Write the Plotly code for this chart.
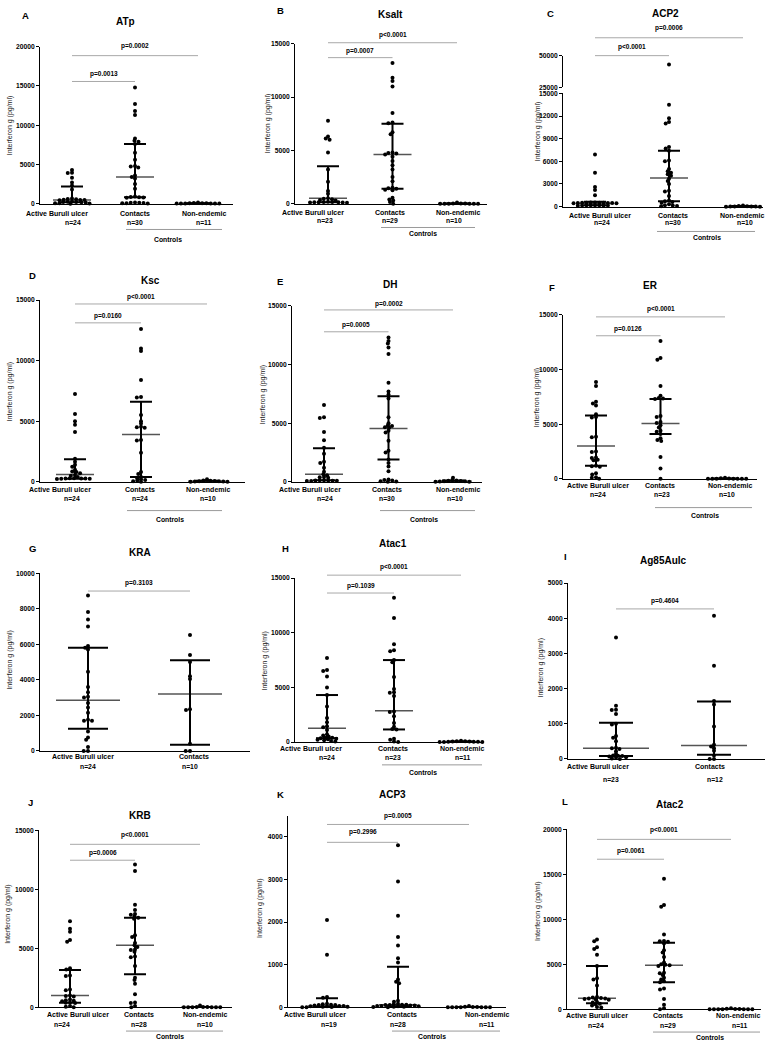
import numpy as np
import plotly.graph_objects as go

W, H = 766, 1044
FONT = "Arial, 'Liberation Sans', sans-serif"

GROUPS_3 = ["Active Buruli ulcer", "Contacts", "Non-endemic"]
GROUPS_2 = ["Active Buruli ulcer", "Contacts"]
Y_LABEL = "Interferon g (pg/ml)"
CONTROLS_LABEL = "Controls"

# ---------------- data (pg/ml) ----------------
# A  ATp
atp_active = [4300, 3950, 3900, 3300, 2700, 2300, 1800, 650, 600, 560, 500, 470, 450, 430, 280, 250, 220, 200, 180, 160, 60, 40, 20, 0]
atp_contacts = [14800, 12700, 11800, 11300, 8300, 8000, 7900, 7600, 6500, 5600, 4800, 4750, 4600, 3600, 3400, 3200, 2500, 1900, 900, 850, 800, 780, 750, 150, 120, 100, 80, 60, 40, 20]
atp_nonendemic = [150, 80, 60, 50, 40, 30, 30, 20, 20, 10, 10]
atp_median = [450, 3400, 30]
atp_q1 = [190, 800, 10]
atp_q3 = [2200, 7600, 60]
atp_n = [24, 30, 11]
atp_pvalues = ["p=0.0013", "p=0.0002"]

# B  Ksalt
ksalt_active = [7780, 6290, 6100, 6000, 4800, 3200, 2050, 1180, 930, 500, 460, 420, 350, 300, 180, 160, 150, 140, 130, 120, 110, 100, 90]
ksalt_contacts = [13200, 11800, 11500, 11000, 8500, 7600, 7550, 6700, 6500, 4800, 4750, 4700, 4600, 4400, 4000, 3600, 3200, 2500, 2100, 1500, 1450, 1400, 1300, 1250, 550, 400, 300, 150, 0]
ksalt_nonendemic = [100, 10, 5, 5, 0, 0, 0, 0, 0, 0]
ksalt_median = [500, 4600, 10]
ksalt_q1 = [130, 1400, 0]
ksalt_q3 = [3500, 7500, 10]
ksalt_n = [23, 29, 10]
ksalt_pvalues = ["p=0.0007", "p<0.0001"]

# C  ACP2
acp2_active = [6900, 4500, 2600, 2200, 1500, 550, 540, 530, 520, 510, 500, 490, 480, 470, 460, 450, 200, 190, 180, 170, 160, 150, 140, 130]
acp2_contacts = [43000, 13500, 11700, 11200, 11000, 7900, 7700, 7400, 6100, 6000, 5000, 4700, 4500, 4300, 4100, 3700, 3400, 3000, 2100, 2000, 1400, 800, 700, 600, 500, 300, 200, 150, 100, 50]
acp2_nonendemic = [150, 100, 50, 30, 20, 10, 10, 0, 0, 0]
acp2_median = [400, 3800, 20]
acp2_q1 = [170, 700, 0]
acp2_q3 = [650, 7400, 80]
acp2_n = [24, 30, 10]
acp2_pvalues = ["p<0.0001", "p=0.0006"]

# D  Ksc
ksc_active = [7250, 5600, 5000, 4700, 4100, 1900, 1650, 1400, 1250, 1000, 850, 800, 700, 550, 500, 400, 300, 290, 280, 270, 260, 250, 240, 230]
ksc_contacts = [12600, 11000, 10800, 8400, 7000, 6950, 5500, 5000, 4800, 4550, 4500, 4450, 3450, 3400, 2400, 800, 650, 400, 300, 200, 150, 100, 50, 0]
ksc_nonendemic = [200, 100, 80, 60, 50, 40, 30, 20, 10, 0]
ksc_median = [600, 3900, 40]
ksc_q1 = [250, 400, 15]
ksc_q3 = [1850, 6600, 80]
ksc_n = [24, 24, 10]
ksc_pvalues = ["p=0.0160", "p<0.0001"]

# E  DH
dh_active = [6550, 5500, 5450, 4250, 3550, 2900, 2400, 1700, 1600, 1200, 850, 650, 550, 400, 380, 350, 130, 120, 110, 100, 90, 80, 70, 60]
dh_contacts = [12300, 12000, 11800, 11450, 10900, 8450, 7700, 7450, 7100, 5500, 5000, 4800, 4750, 4650, 4600, 4350, 4200, 3500, 2650, 2500, 1900, 1600, 1300, 900, 200, 150, 100, 50, 30, 0]
dh_nonendemic = [350, 150, 100, 80, 60, 50, 40, 20, 10, 0]
dh_median = [650, 4550, 55]
dh_q1 = [120, 1900, 15]
dh_q3 = [2850, 7300, 100]
dh_n = [24, 30, 10]
dh_pvalues = ["p=0.0005", "p=0.0002"]

# F  ER
er_active = [8850, 8500, 7050, 6900, 6700, 5900, 5650, 5600, 3850, 3800, 2500, 2450, 1950, 1900, 1750, 1700, 1200, 1150, 1100, 500, 400, 150, 100, 0]
er_contacts = [12600, 11050, 10900, 8500, 7600, 7400, 7350, 7300, 5750, 5650, 5200, 5100, 4900, 4700, 4400, 4300, 4100, 3700, 3550, 3450, 2000, 950, 0]
er_nonendemic = [100, 50, 20, 10, 10, 0, 0, 0, 0, 0]
er_median = [3000, 5050, 10]
er_q1 = [1200, 4100, 0]
er_q3 = [5800, 7300, 30]
er_n = [24, 23, 10]
er_pvalues = ["p=0.0126", "p<0.0001"]

# G  KRA
kra_active = [8750, 7820, 7400, 7000, 5900, 5800, 5700, 4450, 3600, 3300, 3050, 3000, 2700, 2450, 2150, 1750, 1700, 1700, 1100, 750, 630, 220, 0, 0]
kra_contacts = [6520, 5400, 5000, 4200, 4050, 2350, 2300, 400, 0, 0]
kra_median = [2850, 3200]
kra_q1 = [1250, 350]
kra_q3 = [5800, 5100]
kra_n = [24, 10]
kra_pvalues = ["p=0.3103"]

# H  Atac1
atac1_active = [7700, 6600, 6500, 6000, 5000, 4300, 3250, 2200, 1800, 1450, 1350, 1100, 700, 600, 500, 400, 380, 350, 300, 250, 200, 150, 100, 50]
atac1_contacts = [13200, 11350, 8950, 8400, 8300, 7500, 7300, 5950, 4850, 4550, 4500, 4200, 2800, 2750, 2350, 1750, 1400, 1200, 1150, 300, 200, 50, 0]
atac1_nonendemic = [120, 80, 60, 50, 40, 30, 20, 20, 10, 10, 0]
atac1_median = [1250, 2850, 30]
atac1_q1 = [350, 1150, 10]
atac1_q3 = [4300, 7500, 60]
atac1_n = [24, 23, 11]
atac1_pvalues = ["p=0.1039", "p<0.0001"]

# I  Ag85Aulc
ag85_active = [3450, 1510, 1400, 1390, 1280, 1000, 980, 650, 600, 500, 320, 300, 280, 220, 150, 100, 90, 80, 70, 50, 30, 10, 0]
ag85_contacts = [4070, 2650, 1650, 1550, 920, 400, 350, 300, 230, 100, 0, 0]
ag85_median = [300, 380]
ag85_q1 = [80, 120]
ag85_q3 = [1030, 1630]
ag85_n = [23, 12]
ag85_pvalues = ["p=0.4604"]

# J  KRB
krb_active = [7300, 6650, 6400, 5700, 5550, 3300, 3200, 2700, 2650, 1500, 1450, 1000, 950, 900, 650, 600, 550, 500, 400, 380, 360, 100, 50, 0]
krb_contacts = [12100, 11550, 8700, 8250, 7900, 7850, 7700, 7600, 7500, 6100, 5950, 5450, 5250, 5100, 4900, 4850, 4700, 4300, 4250, 3500, 2500, 2300, 2000, 1100, 400, 350, 100, 0]
krb_nonendemic = [150, 20, 10, 10, 0, 0, 0, 0, 0, 0]
krb_median = [1000, 5250, 5]
krb_q1 = [370, 2800, 0]
krb_q3 = [3150, 7600, 10]
krb_n = [24, 28, 10]
krb_pvalues = ["p=0.0006", "p<0.0001"]

# K  ACP3
acp3_active = [2050, 1230, 240, 220, 80, 70, 60, 50, 50, 40, 30, 30, 20, 20, 10, 10, 5, 0, 0]
acp3_contacts = [3800, 2950, 2150, 1650, 1450, 1150, 1050, 650, 600, 560, 150, 130, 80, 70, 60, 60, 50, 50, 40, 40, 30, 30, 20, 20, 10, 10, 5, 0]
acp3_nonendemic = [30, 10, 5, 5, 0, 0, 0, 0, 0, 0, 0]
acp3_median = [30, 60, 0]
acp3_q1 = [5, 20, 0]
acp3_q3 = [210, 950, 5]
acp3_n = [19, 28, 11]
acp3_pvalues = ["p=0.2996", "p=0.0005"]

# L  Atac2
atac2_active = [7750, 7550, 6900, 6700, 6050, 4800, 3450, 3300, 2650, 1350, 1300, 1250, 1200, 1200, 1150, 1100, 1050, 800, 750, 600, 550, 400, 250, 200]
atac2_contacts = [14500, 11600, 11400, 8300, 7600, 7550, 7500, 7300, 6550, 6300, 5800, 5200, 5000, 4950, 4900, 4800, 4050, 4000, 3800, 3500, 3300, 3100, 3000, 2300, 2200, 1150, 500, 100, 0]
atac2_nonendemic = [100, 50, 30, 20, 10, 10, 0, 0, 0, 0, 0]
atac2_median = [1220, 4900, 10]
atac2_q1 = [650, 3000, 0]
atac2_q3 = [4800, 7400, 30]
atac2_n = [24, 29, 11]
atac2_pvalues = ["p=0.0061", "p<0.0001"]

PANELS = [
    dict(letter="A", title="ATp", groups=GROUPS_3, values=[atp_active, atp_contacts, atp_nonendemic], median=atp_median, q1=atp_q1, q3=atp_q3, n=atp_n, pvals=atp_pvalues, ymax=20000, dtick=5000),
    dict(letter="B", title="Ksalt", groups=GROUPS_3, values=[ksalt_active, ksalt_contacts, ksalt_nonendemic], median=ksalt_median, q1=ksalt_q1, q3=ksalt_q3, n=ksalt_n, pvals=ksalt_pvalues, ymax=15000, dtick=5000),
    dict(letter="C", title="ACP2", groups=GROUPS_3, values=[acp2_active, acp2_contacts, acp2_nonendemic], median=acp2_median, q1=acp2_q1, q3=acp2_q3, n=acp2_n, pvals=acp2_pvalues, ymax=15000, dtick=3000),
    dict(letter="D", title="Ksc", groups=GROUPS_3, values=[ksc_active, ksc_contacts, ksc_nonendemic], median=ksc_median, q1=ksc_q1, q3=ksc_q3, n=ksc_n, pvals=ksc_pvalues, ymax=15000, dtick=5000),
    dict(letter="E", title="DH", groups=GROUPS_3, values=[dh_active, dh_contacts, dh_nonendemic], median=dh_median, q1=dh_q1, q3=dh_q3, n=dh_n, pvals=dh_pvalues, ymax=15000, dtick=5000),
    dict(letter="F", title="ER", groups=GROUPS_3, values=[er_active, er_contacts, er_nonendemic], median=er_median, q1=er_q1, q3=er_q3, n=er_n, pvals=er_pvalues, ymax=15000, dtick=5000),
    dict(letter="G", title="KRA", groups=GROUPS_2, values=[kra_active, kra_contacts], median=kra_median, q1=kra_q1, q3=kra_q3, n=kra_n, pvals=kra_pvalues, ymax=10000, dtick=2000),
    dict(letter="H", title="Atac1", groups=GROUPS_3, values=[atac1_active, atac1_contacts, atac1_nonendemic], median=atac1_median, q1=atac1_q1, q3=atac1_q3, n=atac1_n, pvals=atac1_pvalues, ymax=15000, dtick=5000),
    dict(letter="I", title="Ag85Aulc", groups=GROUPS_2, values=[ag85_active, ag85_contacts], median=ag85_median, q1=ag85_q1, q3=ag85_q3, n=ag85_n, pvals=ag85_pvalues, ymax=5000, dtick=1000),
    dict(letter="J", title="KRB", groups=GROUPS_3, values=[krb_active, krb_contacts, krb_nonendemic], median=krb_median, q1=krb_q1, q3=krb_q3, n=krb_n, pvals=krb_pvalues, ymax=15000, dtick=5000),
    dict(letter="K", title="ACP3", groups=GROUPS_3, values=[acp3_active, acp3_contacts, acp3_nonendemic], median=acp3_median, q1=acp3_q1, q3=acp3_q3, n=acp3_n, pvals=acp3_pvalues, ymax=4500, dtick=1000),
    dict(letter="L", title="Atac2", groups=GROUPS_3, values=[atac2_active, atac2_contacts, atac2_nonendemic], median=atac2_median, q1=atac2_q1, q3=atac2_q3, n=atac2_n, pvals=atac2_pvalues, ymax=20000, dtick=5000),
]

# ---------------- geometry (pixels in the 766x1044 page) ----------------
GEOM = {
    "A": dict(axL=40, axR=233, y0=201, yT=43, c0=72, s=63, lab_y=211, n_y=220, lab_x=[57, 135, 204], n_x=[73, 135, 204],
              ctrl=(227, 126, 222, 237, 168), title=(125, 18), letter=(25, 12), ytitle=(10, 122), br_y=[78, 52], bt_y=[70, 42]),
    "B": dict(axL=295, axR=487, y0=201, yT=40, c0=328, s=64.5, lab_y=210, n_y=218, lab_x=[313, 390, 458], n_x=[325, 390, 454],
              ctrl=(225, 381, 475, 231, 423), title=(390, 11), letter=(280, 7), ytitle=(268, 120), br_y=[54, 39], bt_y=[47, 31]),
    "C": dict(axL=563, axR=763, y0=204, yT=90, c0=595, s=74, lab_y=213, n_y=220, lab_x=[600, 673, 742], n_x=[602, 673, 745],
              ctrl=(229, 657, 755, 235, 707), title=(665, 10), letter=(550, 10), ytitle=(538, 128), br_y=[52, 34], bt_y=[43, 24],
              upper=dict(yb=84, yt=52, lo=25000, hi=50000)),
    "D": dict(axL=40, axR=245, y0=481, yT=298, c0=75, s=66, lab_y=489, n_y=498, lab_x=[60, 140, 208], n_x=[72, 140, 208],
              ctrl=(510, 127, 222, 519, 170), title=(150, 278), letter=(32, 273), ytitle=(10, 390), br_y=[321, 302], bt_y=[314, 295]),
    "E": dict(axL=292, axR=482, y0=481, yT=304, c0=324, s=64.5, lab_y=489, n_y=498, lab_x=[310, 387, 458], n_x=[325, 387, 455],
              ctrl=(510, 380, 475, 519, 424), title=(390, 282), letter=(280, 279), ytitle=(263, 393), br_y=[330, 308], bt_y=[323, 302]),
    "F": dict(axL=563, axR=757, y0=478, yT=313, c0=596, s=64.5, lab_y=485, n_y=494, lab_x=[598, 660, 730], n_x=[598, 662, 727],
              ctrl=(507, 655, 752, 515, 705), title=(650, 283), letter=(552, 285), ytitle=(537, 396), br_y=[334, 315], bt_y=[327, 307]),
    "G": dict(axL=40, axR=250, y0=752, yT=573, c0=88, s=102, lab_y=758, n_y=768, lab_x=[83, 194], n_x=[88, 190],
              ctrl=None, title=(140, 552), letter=(32, 548), ytitle=(10, 660), br_y=[591], bt_y=[583], mh=32, ch=20),
    "H": dict(axL=295, axR=483, y0=743, yT=578, c0=327, s=67, lab_y=750, n_y=759, lab_x=[311, 393, 462], n_x=[327, 393, 463],
              ctrl=(766, 382, 482, 774, 423), title=(393, 543), letter=(285, 548), ytitle=(265, 661), br_y=[593, 575], bt_y=[586, 567]),
    "I": dict(axL=568, axR=765, y0=760, yT=583, c0=616, s=98, lab_y=768, n_y=781, lab_x=[598, 710], n_x=[611, 715],
              ctrl=None, title=(663, 560), letter=(565, 556), ytitle=(541, 668), br_y=[609], bt_y=[601], mh=33, ch=17),
    "J": dict(axL=39, axR=232, y0=1010, yT=832, c0=70, s=65, lab_y=1017, n_y=1027, lab_x=[78, 139, 205], n_x=[62, 139, 205],
              ctrl=(1034, 126, 223, 1039, 170), title=(140, 817), letter=(30, 804), ytitle=(8, 916), br_y=[862, 846], bt_y=[855, 837]),
    "K": dict(axL=288, axR=506, y0=1010, yT=817, c0=327, s=71, lab_y=1017, n_y=1027, lab_x=[315, 402, 487], n_x=[329, 398, 487],
              ctrl=(1034, 392, 500, 1039, 432), title=(393, 796), letter=(280, 796), ytitle=(260, 910), br_y=[844, 826], bt_y=[834, 817]),
    "L": dict(axL=567, axR=761, y0=1012, yT=831, c0=597, s=67, lab_y=1018, n_y=1028, lab_x=[597, 668, 738], n_x=[596, 668, 740],
              ctrl=(1035, 653, 760, 1040, 710), title=(670, 806), letter=(565, 803), ytitle=(538, 913), br_y=[861, 841], bt_y=[853, 832]),
}

DOT = 4.0          # marker diameter in px
GAP = 4.3          # swarm spacing in px
Y_STRETCH = 1.8    # rows that are close vertically may partly overlap (as in the original)
MED_HALF = 19      # median line half width (px)
CAP_HALF = 11      # IQR cap half width (px)


def X(px):
    return px / W


def Y(py):
    return 1 - py / H


def font(size, bold=True, color="black"):
    return dict(family=FONT, size=size, color=color, weight="bold" if bold else "normal")


def swarm(vals, scale, d=GAP):
    """Beeswarm horizontal offsets (px) for values drawn at `scale` px/unit."""
    ys = np.asarray(vals, float) * scale * Y_STRETCH
    order = np.argsort(-ys, kind="stable")
    placed = []
    xs = np.zeros(len(ys))
    for i in order:
        y = ys[i]
        near = [(a, b) for a, b in placed if abs(b - y) < d]
        cands = [0.0]
        for a, b in near:
            dx = np.sqrt(max(d * d - (b - y) ** 2, 0))
            cands += [a + dx, a - dx]
        cands.sort(key=lambda c: (abs(c), c))
        for c in cands:
            if all((c - a) ** 2 + (y - b) ** 2 >= d * d - 1e-6 for a, b in near):
                xs[i] = c
                break
        placed.append((xs[i], y))
    return xs


fig = go.Figure()
axes = {}
annotations = []
shapes = []

for idx, p in enumerate(PANELS, start=1):
    g = GEOM[p["letter"]]
    s = g["s"]
    xr, yr = f"x{idx}", f"y{idx}"
    ymax = p["ymax"]
    axes[f"xaxis{idx}"] = dict(domain=[X(g["axL"]), X(g["axR"])],
                               range=[(g["axL"] - g["c0"]) / s, (g["axR"] - g["c0"]) / s],
                               anchor=yr, showline=True, linecolor="black", linewidth=1,
                               showticklabels=False, ticks="", showgrid=False, zeroline=False)
    top_tick = (ymax // p["dtick"]) * p["dtick"]
    axes[f"yaxis{idx}"] = dict(domain=[Y(g["y0"]), Y(g["yT"])], range=[0, ymax], anchor=xr,
                               showline=True, linecolor="black", linewidth=1,
                               ticks="outside", ticklen=3, tickwidth=1, tickcolor="black",
                               tickvals=list(range(0, int(top_tick) + 1, p["dtick"])), tickformat="d",
                               tickfont=font(6.7), showgrid=False, zeroline=False)
    scale = (g["y0"] - g["yT"]) / ymax

    up = g.get("upper")
    if up:
        uid = 13
        axes[f"yaxis{uid}"] = dict(domain=[Y(up["yb"]), Y(up["yt"])], range=[up["lo"], up["hi"]], anchor=xr,
                                   showline=True, linecolor="black", linewidth=1,
                                   ticks="outside", ticklen=3, tickwidth=1, tickcolor="black",
                                   tickvals=[up["lo"], up["hi"]], tickformat="d",
                                   tickfont=font(6.7), showgrid=False, zeroline=False)
        up_scale = (up["yb"] - up["yt"]) / (up["hi"] - up["lo"])

    xs, ys, uxs, uys = [], [], [], []
    for i, vals in enumerate(p["values"]):
        low = [v for v in vals if v <= ymax]
        off = swarm(low, scale)
        xs += list(i + off / s)
        ys += low
        high = [v for v in vals if v > ymax]
        if high and up:
            uoff = swarm(high, up_scale)
            uxs += list(i + uoff / s)
            uys += high

    mh = g.get("mh", MED_HALF) / s
    ch = g.get("ch", CAP_HALF) / s
    mx, my, ix, iy = [], [], [], []
    for i in range(len(p["values"])):
        mx += [i - mh, i + mh, None]
        my += [p["median"][i], p["median"][i], None]
        for q in (p["q1"][i], p["q3"][i]):
            ix += [i - ch, i + ch, None]
            iy += [q, q, None]
        ix += [i, i, None]
        iy += [p["q1"][i], p["q3"][i], None]

    fig.add_trace(go.Scatter(x=mx, y=my, mode="lines", line=dict(color="#555555", width=1.5),
                             xaxis=xr, yaxis=yr, hoverinfo="skip", showlegend=False, cliponaxis=False))
    fig.add_trace(go.Scatter(x=ix, y=iy, mode="lines", line=dict(color="black", width=2),
                             xaxis=xr, yaxis=yr, hoverinfo="skip", showlegend=False, cliponaxis=False))
    fig.add_trace(go.Scatter(x=xs, y=ys, mode="markers", marker=dict(color="black", size=DOT, line=dict(width=0)),
                             xaxis=xr, yaxis=yr, showlegend=False, cliponaxis=False,
                             name=p["title"]))
    if uxs:
        fig.add_trace(go.Scatter(x=uxs, y=uys, mode="markers", marker=dict(color="black", size=DOT, line=dict(width=0)),
                                 xaxis=xr, yaxis="y13", showlegend=False, cliponaxis=False, name=p["title"]))

    # title & panel letter
    annotations.append(dict(x=X(g["title"][0]), y=Y(g["title"][1]), text=p["title"], font=font(10),
                            showarrow=False, xanchor="center", yanchor="middle", xref="paper", yref="paper"))
    annotations.append(dict(x=X(g["letter"][0]), y=Y(g["letter"][1]), text=p["letter"], font=font(9.5),
                            showarrow=False, xanchor="center", yanchor="middle", xref="paper", yref="paper"))
    # y title
    annotations.append(dict(x=X(g["ytitle"][0]), y=Y(g["ytitle"][1]), text=Y_LABEL, font=font(7, bold=False, color="#222"),
                            textangle=-90, showarrow=False, xanchor="center", yanchor="middle", xref="paper", yref="paper"))
    # category labels and n
    for i, name in enumerate(p["groups"]):
        annotations.append(dict(x=X(g["lab_x"][i]), y=Y(g["lab_y"]), text=name, font=font(7),
                                showarrow=False, xanchor="center", yanchor="middle", xref="paper", yref="paper"))
        annotations.append(dict(x=X(g["n_x"][i]), y=Y(g["n_y"]), text=f"n={p['n'][i]}", font=font(6.8),
                                showarrow=False, xanchor="center", yanchor="middle", xref="paper", yref="paper"))
    # controls bracket
    if g["ctrl"]:
        cy, cx0, cx1, ty, tx = g["ctrl"]
        shapes.append(dict(type="line", xref="paper", yref="paper", x0=X(cx0), x1=X(cx1), y0=Y(cy), y1=Y(cy),
                           line=dict(color="#9a9a9a", width=1)))
        annotations.append(dict(x=X(tx), y=Y(ty), text=CONTROLS_LABEL, font=font(6.8),
                                showarrow=False, xanchor="center", yanchor="middle", xref="paper", yref="paper"))
    # p-value brackets
    for j, txt in enumerate(p["pvals"]):
        by, bt = g["br_y"][j], g["bt_y"][j]
        xa0 = g["c0"]
        xa1 = g["c0"] + (j + 1) * s
        shapes.append(dict(type="line", xref="paper", yref="paper", x0=X(xa0), x1=X(xa1), y0=Y(by), y1=Y(by),
                           line=dict(color="#a8a8a8", width=1)))
        annotations.append(dict(x=X((xa0 + xa1) / 2), y=Y(bt), text=txt, font=font(6.5),
                                showarrow=False, xanchor="center", yanchor="middle", xref="paper", yref="paper"))

fig.update_layout(
    width=W, height=H, margin=dict(l=0, r=0, t=0, b=0),
    paper_bgcolor="white", plot_bgcolor="white",
    font=dict(family=FONT, color="black"),
    showlegend=False, annotations=annotations, shapes=shapes,
    **axes,
)

# remove the default page margin so the 766x1044 figure fills the window exactly
fig.write_html("out.html",
               config={"displayModeBar": False},
               post_script="document.body.style.margin='0px';document.body.style.overflow='hidden';")
